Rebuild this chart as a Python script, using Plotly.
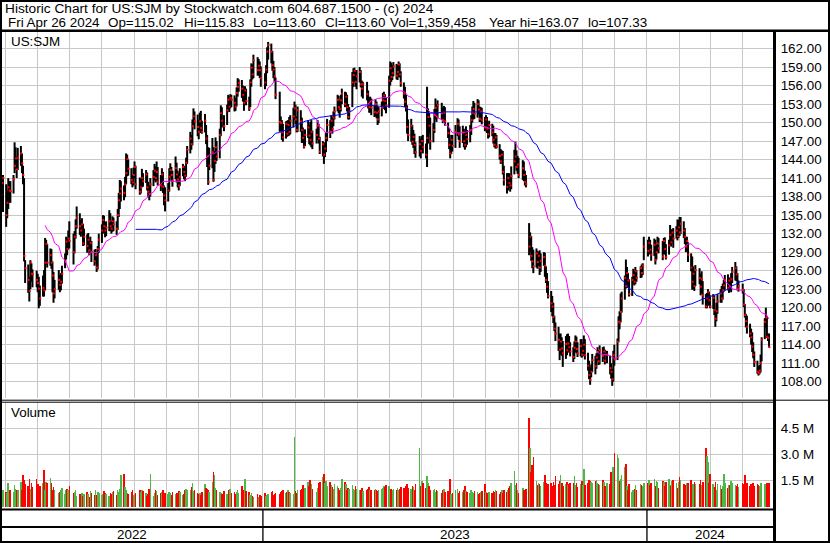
import pandas as pd
import plotly.graph_objects as go

# ---------------- data ----------------
SYMBOL = "US:SJM"
FIRST_DAY = "2022-04-27"
LAST_DAY = "2024-04-26"
HOLIDAYS = ["2022-05-30", "2022-06-20", "2022-07-04", "2022-09-05", "2022-11-24", "2022-12-26",
            "2023-01-02", "2023-01-16", "2023-02-20", "2023-04-07", "2023-05-29", "2023-06-19",
            "2023-07-04", "2023-09-04", "2023-11-23", "2023-12-25",
            "2024-01-01", "2024-01-15", "2024-02-19", "2024-03-29"]

high = [140.6, 141.2,
    141.5,140.0,139.0,141.0,140.5,140.5,141.5,146.8,146.0,144.5,
    145.9,146.2,145.0,143.0,141.0,127.7,127.0,125.0,127.7,127.2,
    126.2,126.0,125.5,125.0,123.6,125.2,126.1,131.3,131.0,130.3,
    129.6,129.5,127.5,125.8,124.5,126.1,125.3,125.6,126.8,128.8,
    131.5,131.3,132.5,134.0,132.0,132.4,134.3,136.4,135.3,134.2,
    134.5,133.6,132.8,131.9,132.1,131.2,131.5,130.8,129.4,129.5,
    128.6,130.0,132.0,133.5,135.0,134.9,133.8,134.0,135.8,135.3,
    134.0,134.8,134.6,134.0,136.0,138.6,140.7,140.5,139.8,141.2,
    145.0,144.8,144.0,142.6,141.5,142.7,143.7,143.0,141.1,140.8,
    142.5,141.8,142.3,141.9,140.4,139.8,141.0,142.3,143.3,142.9,
    143.7,142.8,141.5,142.6,142.0,139.8,139.5,140.2,142.6,143.4,
    142.8,142.2,144.5,143.5,142.2,141.8,142.6,143.3,143.0,142.5,
    144.3,146.2,148.5,148.0,150.5,152.3,151.8,151.3,150.4,151.6,
    151.9,150.3,151.4,149.6,148.0,146.0,145.9,147.5,146.0,145.4,
    147.6,147.0,149.0,152.8,152.5,151.2,152.9,154.5,154.2,154.6,
    154.5,154.4,154.0,155.7,157.2,157.0,156.9,156.0,155.3,155.9,
    155.5,154.2,157.0,159.6,159.4,161.0,160.6,160.3,159.9,159.1,
    158.0,159.3,162.2,163.07,162.8,161.6,160.0,159.0,157.3,155.0,
    151.0,150.4,149.8,150.2,150.3,150.4,150.9,151.2,152.4,153.4,
    152.9,151.0,152.6,152.0,150.8,149.2,147.8,148.9,150.4,149.6,
    150.1,150.4,148.7,149.0,150.4,149.8,147.7,147.0,146.8,146.7,
    148.4,150.6,150.4,151.2,150.9,151.8,152.6,154.5,154.3,153.6,
    154.5,155.5,155.0,154.9,154.5,153.0,152.5,158.2,158.8,158.9,
    158.5,158.5,159.0,158.5,156.8,156.6,156.6,155.2,154.1,154.2,
    153.9,152.8,153.8,153.4,152.7,152.5,153.4,154.8,155.0,154.6,
    154.0,157.6,159.9,159.7,159.3,159.8,159.5,159.3,159.9,159.6,
    158.3,156.5,155.8,154.5,152.8,150.5,150.6,149.6,148.8,148.2,
    146.8,147.8,147.4,147.8,148.0,146.6,155.8,152.3,151.6,150.8,
    149.9,152.2,153.9,153.0,153.6,153.2,152.4,152.7,152.5,150.0,
    149.1,147.3,148.0,148.0,149.6,150.7,150.5,149.4,149.5,149.0,
    148.6,149.4,148.8,149.6,151.2,152.6,153.5,153.2,153.8,153.6,
    152.6,152.5,152.4,150.9,151.2,150.9,149.8,150.3,149.8,149.5,
    148.3,148.3,148.0,146.5,145.7,145.5,145.4,143.0,141.8,141.8,
    141.8,141.2,142.9,145.6,146.9,145.5,144.6,144.3,143.9,143.7,
    142.2,141.5,133.7,132.2,131.6,129.8,129.4,129.6,129.2,129.0,
    129.3,128.8,129.0,128.9,126.7,125.6,124.3,122.7,121.9,120.8,
    118.7,117.6,116.9,115.8,115.8,115.2,114.6,115.4,115.7,115.8,
    115.4,114.4,113.6,114.5,115.5,115.3,114.4,114.9,114.9,114.3,
    115.5,114.9,112.7,111.4,110.3,110.8,112.5,112.2,112.6,113.6,
    113.1,113.9,113.6,113.7,113.2,113.0,112.2,111.0,110.1,113.0,
    114.0,115.0,118.6,119.4,122.3,122.6,125.2,127.8,126.6,125.6,
    124.6,125.0,126.3,126.0,126.6,126.1,126.7,127.0,127.2,131.5,
    131.0,131.5,131.0,130.2,131.2,131.0,130.2,131.5,131.3,130.8,
    131.3,131.4,130.3,131.0,133.4,132.7,132.7,132.9,133.2,134.3,
    134.2,134.7,134.7,134.0,132.9,131.4,131.5,130.6,128.8,128.3,
    126.7,126.0,126.9,126.4,125.5,125.9,124.3,122.2,122.4,123.0,
    122.6,122.0,122.2,122.0,119.8,120.8,122.2,123.0,123.5,123.9,
    124.5,125.3,125.4,124.9,124.6,125.6,126.6,127.4,126.7,125.6,
    124.4,123.9,123.0,120.6,119.0,118.7,117.4,116.6,116.0,114.4,
    112.9,111.4,110.5,110.7,112.4,115.2,118.3,120.0,118.5,115.8,
    115.83]

low = [136.2, 137.5,
    135.5,133.1,134.5,136.0,137.0,137.0,138.5,141.8,142.5,141.0,
    142.3,143.0,141.8,140.0,127.5,124.0,122.4,121.0,123.0,124.2,
    123.3,123.3,122.5,119.9,120.3,121.8,121.8,122.8,127.0,126.5,
    126.8,126.3,122.5,120.8,121.5,122.9,122.5,122.8,123.9,126.4,
    127.8,128.5,129.4,129.6,127.0,128.8,131.2,132.8,131.8,131.5,
    131.9,130.0,130.1,128.9,129.4,128.5,128.9,127.4,126.8,127.2,
    125.8,126.2,128.9,130.5,132.0,132.3,131.4,131.6,132.4,132.4,
    132.0,132.3,132.4,131.8,132.6,134.7,136.0,137.2,137.4,137.9,
    140.0,141.3,141.4,140.0,139.5,139.8,141.0,139.2,138.3,138.5,
    139.5,139.6,140.2,139.0,137.9,137.4,138.0,139.7,140.6,140.3,
    140.6,139.8,138.9,139.6,138.6,136.6,135.6,137.2,138.8,141.0,
    140.5,139.6,140.8,140.3,139.5,139.0,139.7,141.3,140.8,140.5,
    141.2,143.3,145.0,145.6,146.3,149.6,148.9,147.8,147.3,148.4,
    148.3,148.2,148.4,146.5,142.8,139.9,142.3,142.6,140.4,142.0,
    143.3,143.8,144.2,147.8,149.2,148.6,149.6,151.9,151.7,152.3,
    152.5,151.8,151.9,152.6,154.2,155.0,154.0,153.4,151.9,152.9,
    152.8,151.9,152.5,155.8,157.0,157.2,157.6,157.6,157.2,155.8,
    155.4,155.9,158.0,160.2,159.6,158.4,157.2,156.6,153.8,148.5,
    148.6,147.2,146.9,147.4,147.7,147.8,147.9,148.1,149.2,150.4,
    149.7,148.4,148.5,148.5,146.7,146.7,145.8,146.2,147.5,146.5,
    146.3,146.0,145.7,146.6,147.2,146.6,144.9,144.5,143.3,144.4,
    145.2,147.0,147.5,148.6,148.2,149.4,150.5,151.8,151.5,150.8,
    151.8,153.0,152.5,152.7,151.8,150.5,150.5,152.5,155.8,156.6,
    155.8,155.4,156.5,155.7,154.2,153.9,153.6,152.3,151.6,151.6,
    151.2,150.9,151.0,150.7,149.6,149.9,151.0,152.2,152.8,152.0,
    151.5,152.4,156.0,156.6,156.9,157.5,157.0,156.9,157.4,157.3,
    155.8,153.9,152.5,151.8,148.2,147.0,146.9,146.4,145.9,144.9,
    144.3,144.5,144.2,145.2,145.0,144.2,142.8,146.6,148.2,145.6,
    146.8,148.3,150.5,150.1,150.7,150.4,149.9,150.0,149.5,147.5,
    145.7,144.2,144.9,145.3,145.9,147.8,147.2,145.9,146.7,146.0,
    145.6,146.0,146.4,146.8,148.0,150.0,150.5,150.6,150.8,151.3,
    150.1,150.1,149.7,148.6,148.6,148.3,147.4,147.6,147.8,146.6,
    146.0,145.8,145.8,144.0,143.3,143.4,141.6,139.8,138.5,139.0,
    139.4,138.8,139.2,141.6,143.0,142.2,141.7,141.0,140.7,140.5,
    139.8,139.5,128.5,129.1,127.6,126.4,125.6,126.5,126.3,126.8,
    125.3,125.8,126.8,125.0,124.0,122.4,121.5,119.3,118.6,117.5,
    116.2,114.6,113.0,111.5,112.4,112.2,110.4,111.7,112.3,112.9,
    112.7,112.1,111.2,111.7,112.8,112.6,112.0,112.1,111.9,112.1,
    112.5,111.6,109.8,108.4,107.5,108.7,109.6,109.2,110.1,111.4,
    110.7,110.8,111.2,111.8,110.8,111.0,109.2,108.5,107.33,108.0,
    110.6,111.5,114.4,116.5,117.6,119.2,121.3,123.1,123.3,123.2,
    121.8,121.9,123.9,123.6,123.8,124.2,124.8,124.9,125.3,127.7,
    128.3,129.1,128.6,127.6,128.4,127.0,127.8,128.9,128.8,127.7,
    128.7,128.6,127.8,128.6,130.0,129.9,130.4,129.7,131.2,130.9,
    131.3,131.6,131.9,131.3,130.3,129.0,129.3,127.4,125.9,122.9,
    123.0,122.7,123.5,123.8,122.0,122.3,120.5,119.9,119.9,120.7,
    120.3,119.9,119.8,118.8,116.9,117.8,119.0,120.8,120.8,121.3,
    122.6,122.9,122.8,122.4,122.8,122.5,124.0,124.4,124.3,122.8,
    122.6,122.3,120.1,118.4,116.8,115.8,115.2,114.0,112.8,111.8,
    110.4,109.3,109.0,109.2,109.5,111.3,114.9,116.8,115.1,114.6,
    113.60]

close = [138.4, 140.2,
    141.0,135.0,137.0,139.5,139.0,138.9,140.8,143.0,144.2,142.4,
    144.3,145.0,143.4,141.5,128.4,126.4,124.5,122.7,127.3,125.5,
    125.4,124.5,124.0,123.1,121.5,123.2,122.8,127.3,130.3,127.3,
    128.5,127.3,125.2,122.3,123.0,124.5,123.7,124.2,125.5,127.5,
    130.7,129.5,131.2,130.8,129.0,131.5,133.2,134.6,133.2,132.5,
    133.5,130.4,131.5,130.0,131.0,129.3,130.5,129.0,127.5,128.5,
    126.5,129.5,131.0,132.5,134.2,133.2,132.5,133.0,134.0,133.2,
    132.8,134.0,133.5,132.8,135.0,137.4,138.5,139.3,138.6,140.0,
    141.8,144.1,142.5,140.7,140.3,141.5,142.8,140.0,138.8,139.5,
    141.0,140.5,141.6,139.5,138.8,138.4,140.0,141.2,142.2,141.0,
    142.0,140.4,139.8,141.6,139.6,138.2,137.4,139.0,141.2,142.3,
    141.5,140.6,142.6,141.6,140.8,139.8,141.2,142.8,142.0,141.4,
    143.5,145.6,147.4,146.5,149.4,151.0,150.2,149.3,148.5,150.2,
    149.1,148.5,150.3,147.4,144.5,140.4,143.0,145.2,140.7,143.8,
    146.0,144.5,148.0,151.5,150.3,149.4,152.0,153.7,152.6,154.0,
    153.7,153.2,152.6,154.8,155.8,156.4,155.5,154.5,153.2,155.2,
    153.5,152.3,156.5,158.9,157.8,160.1,158.5,159.2,158.5,157.2,
    156.5,158.6,161.5,162.6,161.5,159.3,158.6,157.5,154.5,150.1,
    149.9,148.4,147.6,149.8,148.2,149.6,148.5,150.3,151.0,152.3,
    150.5,148.8,152.0,150.2,148.8,147.5,146.1,148.0,149.2,147.9,
    147.2,148.5,146.6,148.0,149.5,147.4,145.3,146.5,144.8,145.8,
    147.5,149.6,148.5,150.3,149.0,150.8,151.8,153.7,152.5,152.2,
    153.6,154.7,153.0,154.2,152.5,150.9,151.8,156.5,157.7,158.4,
    156.6,157.5,158.2,156.2,155.5,156.2,154.6,153.0,152.5,153.4,
    152.4,151.7,153.0,151.6,150.5,151.8,152.4,153.6,154.4,153.5,
    152.8,156.8,158.8,157.4,158.0,159.1,157.6,158.2,159.4,157.8,
    156.4,154.7,153.4,152.4,149.3,148.0,149.5,146.9,147.7,146.4,
    145.2,146.5,145.4,147.0,146.0,144.8,147.5,150.9,149.5,147.0,
    148.8,151.2,152.4,151.0,152.8,151.5,150.4,151.6,150.2,148.3,
    146.4,145.0,147.2,146.2,148.5,149.8,148.1,147.0,148.4,147.0,
    146.4,148.0,147.3,148.8,150.4,151.6,152.2,151.4,153.0,152.1,
    150.6,151.8,150.4,149.2,150.5,149.0,148.1,149.6,148.4,147.2,
    146.4,147.6,146.1,144.6,143.7,144.8,142.0,140.7,139.6,141.0,
    140.2,139.8,141.3,143.7,144.5,142.8,143.2,141.5,142.6,141.5,
    140.4,140.0,129.9,131.5,128.4,127.5,126.7,128.8,127.4,128.4,
    126.5,127.6,128.2,126.8,124.5,123.4,121.9,120.7,120.2,118.5,
    116.6,115.8,114.8,113.2,114.5,113.4,112.6,114.1,113.1,114.2,
    113.6,112.9,112.0,113.5,114.5,113.3,112.6,113.8,112.4,113.0,
    114.0,112.3,110.6,109.1,108.3,109.6,111.5,110.5,111.9,112.8,
    111.3,113.1,112.2,112.9,111.4,112.4,110.2,109.6,108.4,112.3,
    111.6,114.5,117.7,117.6,119.3,121.5,124.8,123.5,125.6,124.4,
    122.2,124.5,125.3,124.2,125.9,124.8,126.4,125.6,126.8,129.9,
    129.2,130.5,129.4,128.6,130.2,127.7,129.0,130.4,129.6,128.3,
    130.8,129.5,128.2,130.1,131.8,130.6,132.2,131.2,132.5,131.6,
    133.0,132.2,133.6,132.5,131.5,129.9,130.8,128.6,126.5,124.2,
    125.5,123.5,126.1,124.8,123.4,124.6,122.0,120.2,121.5,122.5,
    121.2,120.2,121.6,119.6,118.2,119.4,121.0,122.3,121.5,122.8,
    123.6,124.5,123.2,124.4,123.4,124.6,125.8,126.4,125.4,123.1,
    123.5,122.9,120.5,118.8,117.8,116.9,115.8,115.2,113.7,112.4,
    111.2,109.6,109.4,109.8,111.0,114.8,117.7,118.4,115.3,115.1,
    113.60]

volume_m = [1.0, 0.9,
    0.95,0.85,0.82,1.35,0.98,1.0,0.85,1.25,1.05,1.0,
    0.95,1.45,1.0,1.85,1.55,1.3,1.2,1.6,1.05,1.35,
    1.15,1.6,1.3,0.95,1.2,1.35,2.1,1.0,1.45,1.4,
    1.65,1.35,1.0,1.15,0.95,0.8,0.85,0.95,1.1,0.75,
    0.95,1.05,1.0,1.2,0.8,0.85,1.0,0.65,0.72,0.7,
    0.8,0.65,0.72,0.85,0.75,0.6,0.9,0.78,0.68,0.95,
    0.7,0.85,0.78,0.7,0.75,0.9,0.82,0.72,0.65,0.8,
    0.75,0.85,0.9,0.7,0.95,0.85,1.05,1.85,1.9,1.15,
    0.95,0.8,0.75,0.85,1.0,0.7,0.72,0.8,0.95,0.85,
    1.0,0.9,0.78,0.65,0.72,1.05,1.9,0.65,0.78,0.95,
    0.92,0.7,0.8,0.88,1.0,0.72,0.8,0.75,0.85,0.78,
    0.7,0.85,0.75,0.78,0.82,0.9,0.85,0.7,0.75,0.95,
    1.05,0.95,0.95,1.15,1.38,0.9,1.0,0.8,0.72,0.78,
    0.7,0.85,1.3,1.1,1.05,0.95,0.85,1.45,1.98,1.82,
    1.1,0.95,0.85,0.78,0.75,0.9,0.72,0.7,0.95,1.05,
    0.78,0.88,0.72,0.85,1.0,0.78,1.2,0.95,0.82,1.6,
    0.9,0.85,0.7,0.8,0.65,0.6,0.75,0.55,0.7,0.65,
    0.8,0.65,0.7,0.72,0.85,0.9,0.7,0.75,0.8,0.75,
    0.85,0.9,0.95,0.8,0.88,0.95,0.85,0.78,0.75,4.0,
    0.9,0.8,1.0,0.95,1.05,1.25,0.95,1.1,1.45,1.2,
    1.55,1.3,1.05,0.85,1.1,1.4,1.45,1.7,1.89,1.35,
    1.5,1.2,1.45,1.25,1.15,1.05,1.3,1.2,1.1,1.0,
    1.1,1.6,1.45,1.3,1.0,1.1,1.05,1.25,1.05,0.95,
    1.2,1.05,0.95,1.0,1.1,0.9,1.0,1.05,1.15,0.95,
    1.0,0.95,1.05,0.95,0.9,1.0,1.05,1.1,1.2,1.15,
    1.25,1.2,0.95,1.05,1.0,1.05,0.95,1.1,1.0,1.05,
    1.15,1.1,0.95,1.2,1.3,1.1,1.05,1.2,1.15,1.0,
    1.3,3.4,1.2,1.5,1.35,1.1,1.8,1.35,1.2,1.0,
    0.95,1.05,0.85,1.0,0.9,0.8,0.95,1.05,0.85,0.9,
    0.8,1.6,0.75,0.8,0.95,1.05,0.8,0.9,0.85,1.0,
    1.2,0.9,0.85,0.8,0.95,0.85,0.8,0.9,0.85,0.75,
    0.8,0.85,0.9,1.3,0.85,0.8,0.75,0.85,0.8,0.9,
    0.85,0.95,0.9,0.75,0.85,0.95,0.8,0.95,0.85,1.0,
    1.1,1.2,1.37,2.05,1.25,1.35,0.95,0.8,1.1,1.0,
    0.95,1.05,5.1,3.4,2.0,2.4,2.85,1.5,1.25,1.4,
    1.3,1.2,1.45,1.83,1.4,1.25,1.3,1.35,1.2,1.45,
    1.25,1.8,1.3,1.5,1.85,1.35,1.2,1.3,1.45,1.25,
    1.3,1.4,1.4,1.8,1.25,1.35,1.15,1.3,1.5,1.25,
    2.17,1.25,1.4,1.55,1.5,1.45,1.4,1.5,1.55,1.35,
    1.3,1.25,1.55,1.45,1.2,1.4,1.3,2.0,1.5,2.3,
    3.1,3.0,2.8,1.5,1.6,1.85,2.3,2.45,1.2,1.0,
    1.3,0.85,0.95,1.05,1.25,1.0,1.3,1.25,1.2,1.4,
    1.35,1.55,1.25,1.35,1.6,1.2,1.5,1.45,1.1,1.5,
    1.45,1.2,1.45,1.6,1.25,1.2,1.5,1.55,1.35,1.1,
    1.45,1.7,1.55,1.3,1.25,1.2,1.4,1.35,1.55,1.25,
    1.3,1.45,1.3,1.3,1.55,1.25,1.45,3.4,2.9,2.6,
    1.4,1.9,1.3,1.15,1.45,1.0,1.3,1.25,1.05,1.2,
    1.9,1.35,1.1,1.25,1.25,1.5,1.35,1.25,1.2,1.3,
    1.15,1.35,1.3,1.83,1.2,1.35,1.2,1.3,1.25,1.35,
    1.2,1.3,1.25,1.2,1.35,1.4,1.3,1.25,1.4,1.35,
    1.36]

price_ticks = [108, 111, 114, 117, 120, 123, 126, 129, 132, 135, 138, 141, 144, 147, 150, 153, 156, 159, 162]
volume_ticks = [1.5, 3.0, 4.5]
volume_tick_text = ["1.5 M", "3.0 M", "4.5 M"]
year_labels = ["2022", "2023", "2024"]

header_1 = "Historic Chart for US:SJM by Stockwatch.com 604.687.1500 - (c) 2024"
header_2 = ["Fri Apr 26 2024", "Op=115.02", "Hi=115.83", "Lo=113.60", "Cl=113.60",
            "Vol=1,359,458", "Year hi=163.07", "lo=107.33"]

MA_FAST, MA_SLOW = 30, 90

# ---------------- build ----------------
W, H = 830, 543
FONT = "Liberation Sans, Arial, sans-serif"
FS = 13.4

dates = pd.bdate_range(FIRST_DAY, LAST_DAY)
dates = dates[~dates.isin(pd.to_datetime(HOLIDAYS))]
n = min(len(dates), len(close), len(high), len(low), len(volume_m))
dates = dates[:n]
high, low, close, volume_m = high[:n], low[:n], close[:n], volume_m[:n]

cs = pd.Series(close)
ma_fast = cs.rolling(MA_FAST).mean()
ma_slow = cs.rolling(MA_SLOW).mean()

bx, by = [], []
for d, h_, l_ in zip(dates, high, low):
    bx += [d, d, None]
    by += [l_, h_, None]

# close tick sits at the right edge of its bar
tick_x = dates + pd.Timedelta(hours=8)

vcol = []
for i, c in enumerate(close):
    if i == 0 or c == close[i - 1]:
        vcol.append("#A8A8A8")
    elif c > close[i - 1]:
        vcol.append("#4CB848")
    else:
        vcol.append("#FF0000")


def px(x):
    return x / W


def py(y):
    return 1 - y / H


fig = go.Figure()
fig.add_trace(go.Scatter(x=bx, y=by, mode="lines", line=dict(color="black", width=2),
                         hoverinfo="skip", showlegend=False, xaxis="x", yaxis="y"))
fig.add_trace(go.Scatter(x=tick_x, y=close, mode="markers",
                         marker=dict(symbol="square", size=2, color="#FF0000", line=dict(width=0)),
                         showlegend=False, hoverinfo="skip", xaxis="x", yaxis="y"))
fig.add_trace(go.Scatter(x=dates, y=ma_fast, mode="lines", line=dict(color="#FF00FF", width=1),
                         showlegend=False, xaxis="x", yaxis="y"))
fig.add_trace(go.Scatter(x=dates, y=ma_slow, mode="lines", line=dict(color="#0000FF", width=1),
                         showlegend=False, xaxis="x", yaxis="y"))
fig.add_trace(go.Bar(x=dates, y=volume_m, marker=dict(color=vcol, line=dict(width=0)),
                     width=1.5 * 86400000, showlegend=False, xaxis="x2", yaxis="y2"))

x_range = ["2022-04-28 00:55", "2024-04-29 19:12"]
grid = "#C8C8C8"
xcommon = dict(type="date", range=x_range, domain=[px(2), px(773)], showgrid=True,
               gridcolor=grid, gridwidth=1, dtick="M1", tick0="2022-05-01",
               showticklabels=False, ticks="", showline=False, zeroline=False, fixedrange=True)

fig.update_layout(
    width=W, height=H,
    margin=dict(l=0, r=0, t=0, b=0),
    paper_bgcolor="white", plot_bgcolor="white",
    font=dict(family=FONT, size=FS, color="black"),
    xaxis=dict(anchor="y", **xcommon),
    xaxis2=dict(anchor="y2", matches="x", **xcommon),
    yaxis=dict(domain=[py(398), py(31)], range=[105.36, 164.84], side="right",
               tickvals=price_ticks, ticktext=[f"{t:.2f}" for t in price_ticks],
               showgrid=True, gridcolor=grid, gridwidth=1, zeroline=False,
               ticks="outside", ticklen=4, tickcolor="rgba(0,0,0,0)",
               tickfont=dict(family=FONT, size=FS, color="black"), showline=False, fixedrange=True),
    yaxis2=dict(domain=[py(507), py(402)], range=[0, 6.01], side="right",
                tickvals=volume_ticks, ticktext=volume_tick_text,
                showgrid=True, gridcolor=grid, gridwidth=1, zeroline=False,
                ticks="outside", ticklen=4, tickcolor="rgba(0,0,0,0)",
                tickfont=dict(family=FONT, size=FS, color="black"), showline=False, fixedrange=True),
    bargap=0,
)

shapes = []


def hline(y, x0, x1, w):
    shapes.append(dict(type="line", xref="paper", yref="paper", x0=px(x0), x1=px(x1),
                       y0=py(y), y1=py(y), line=dict(color="black", width=w)))


def vline(x, y0, y1, w):
    shapes.append(dict(type="line", xref="paper", yref="paper", x0=px(x), x1=px(x),
                       y0=py(y0), y1=py(y1), line=dict(color="black", width=w)))


shapes.append(dict(type="rect", xref="paper", yref="paper", x0=px(1), x1=px(829),
                   y0=py(542), y1=py(1), line=dict(color="black", width=2)))
hline(30.7, 0, 830, 2.5)
vline(774.5, 30, 542, 3)
hline(400.2, 0, 830, 1)
hline(402.2, 0, 774, 1)
hline(509.5, 0, 774, 2)
hline(527, 0, 774, 2)
for yr in year_labels[1:]:
    shapes.append(dict(type="line", xref="x", yref="paper", x0=f"{yr}-01-01", x1=f"{yr}-01-01",
                       y0=py(542), y1=py(509.5), line=dict(color="black", width=1.3)))
fig.update_layout(shapes=shapes)

ann = []
ann.append(dict(text=header_1, x=px(3), y=py(8.5), xref="paper", yref="paper",
                xanchor="left", yanchor="middle", showarrow=False, font=dict(size=13.7)))
hx = [6, 106, 182, 251, 323, 388, 486.7, 585.7]
for t, x in zip(header_2, hx):
    ann.append(dict(text=t, x=px(x), y=py(22.5), xref="paper", yref="paper",
                    xanchor="left", yanchor="middle", showarrow=False))
ann.append(dict(text=SYMBOL, x=px(9), y=py(41), xref="paper", yref="paper",
                xanchor="left", yanchor="middle", showarrow=False))
ann.append(dict(text="Volume", x=px(9), y=py(413), xref="paper", yref="paper",
                xanchor="left", yanchor="middle", showarrow=False))

# year labels centred on the visible part of each year
r0, r1 = pd.Timestamp(x_range[0]), pd.Timestamp(x_range[1])
for yr in year_labels:
    a = max(pd.Timestamp(f"{yr}-01-01"), r0)
    b = min(pd.Timestamp(f"{int(yr) + 1}-01-01"), r1)
    mid = a + (b - a) / 2
    ann.append(dict(text=yr, x=mid, y=py(534.5), xref="x", yref="paper",
                    xanchor="center", yanchor="middle", showarrow=False))
fig.update_layout(annotations=ann)

fig.write_html("out.html",
               config={"displayModeBar": False, "staticPlot": True},
               post_script="document.body.style.margin='0';document.body.style.padding='0';"
                           "document.body.style.overflow='hidden';")
